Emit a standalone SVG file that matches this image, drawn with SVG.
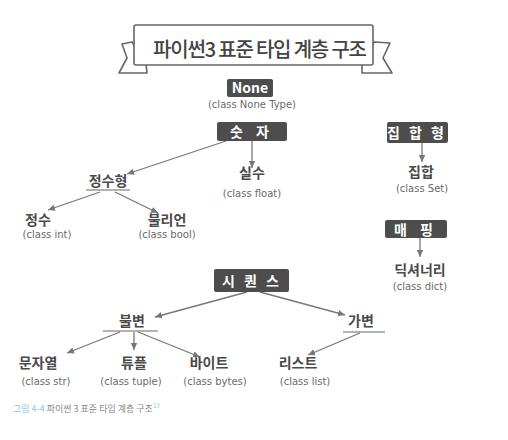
<svg xmlns="http://www.w3.org/2000/svg" width="508" height="440" viewBox="0 0 508 440">
<style>
.box{fill:#4d4d4d;}
.bt{fill:#fff;font-family:"Noto Sans CJK KR","Noto Sans",sans-serif;font-weight:bold;font-size:14px;text-anchor:middle;}
.lb{fill:#4a4a4a;font-family:"Noto Sans CJK KR","Noto Sans",sans-serif;font-weight:bold;font-size:14px;text-anchor:middle;}
.cl{fill:#6a6a6a;font-family:"DejaVu Sans","Noto Sans",sans-serif;font-size:10px;text-anchor:middle;}
.ln{stroke:#777;stroke-width:1.3;fill:none;}
.ul{stroke:#666;stroke-width:1.2;}
.ban{fill:#fff;stroke:#666;stroke-width:1.6;stroke-linejoin:round;}
</style>
<defs>
<marker id="ah" markerWidth="8" markerHeight="8" refX="7" refY="4" orient="auto" markerUnits="userSpaceOnUse">
<path d="M0,0.8 L7,4 L0,7.2 Z" fill="#777"/>
</marker>
</defs>
<rect width="508" height="440" fill="#fff"/>

<g id="title">
<path class="ban" d="M132,42 L122,44 L127,58 L119,73 L147,73 L146,64 Z"/>
<path class="ban" d="M374,42 L390,43 L383,58 L392,73 L362,73 L362,64 Z"/>
<rect class="ban" x="134" y="25" width="239" height="40" rx="2"/>
<text x="260" y="57" fill="#444" font-family="Noto Sans CJK KR, sans-serif" font-size="20" font-weight="500" text-anchor="middle" textLength="214" lengthAdjust="spacing">파이썬3 표준 타입 계층 구조</text>
</g>

<g id="connectors">
<line class="ln" x1="252" y1="140" x2="252" y2="168" marker-end="url(#ah)"/>
<line class="ln" x1="226" y1="141" x2="127" y2="174" marker-end="url(#ah)"/>
<line class="ln" x1="100" y1="192" x2="48" y2="210" marker-end="url(#ah)"/>
<line class="ln" x1="115" y1="192" x2="158" y2="213" marker-end="url(#ah)"/>
<line class="ln" x1="422" y1="143" x2="422" y2="162" marker-end="url(#ah)"/>
<line class="ln" x1="420" y1="238" x2="420" y2="257" marker-end="url(#ah)"/>
<line class="ln" x1="247" y1="292" x2="155" y2="317" marker-end="url(#ah)"/>
<line class="ln" x1="260" y1="292" x2="345" y2="315" marker-end="url(#ah)"/>
<line class="ln" x1="120" y1="332" x2="67" y2="353" marker-end="url(#ah)"/>
<line class="ln" x1="134" y1="332" x2="134" y2="350" marker-end="url(#ah)"/>
<line class="ln" x1="138" y1="332" x2="200" y2="357" marker-end="url(#ah)"/>
<line class="ln" x1="360" y1="333" x2="308" y2="355" marker-end="url(#ah)"/>
</g>

<g id="none">
<rect class="box" x="227" y="79" width="46" height="18" rx="2"/>
<text class="bt" x="250" y="93" font-family="Noto Sans, sans-serif">None</text>
<text class="cl" x="252" y="108">(class None Type)</text>
</g>

<g id="number">
<rect class="box" x="217" y="122" width="70" height="19" rx="2"/>
<text class="bt" x="252" y="137" letter-spacing="5">숫 자</text>
</g>

<g id="integral">
<text class="lb" x="108" y="186">정수형</text>
<line class="ul" x1="86" y1="190" x2="130" y2="190"/>
</g>

<g id="int">
<text class="lb" x="38" y="225">정수</text>
<text class="cl" x="47" y="238">(class  int)</text>
</g>

<g id="bool">
<text class="lb" x="167" y="225">불리언</text>
<text class="cl" x="167" y="238">(class  bool)</text>
</g>

<g id="float">
<text class="lb" x="252" y="178">실수</text>
<text class="cl" x="252" y="197">(class  float)</text>
</g>

<g id="setgroup">
<rect class="box" x="387" y="122" width="61" height="21" rx="2"/>
<text class="bt" x="417" y="138" letter-spacing="3">집 합 형</text>
</g>

<g id="set">
<text class="lb" x="421" y="177">집합</text>
<text class="cl" x="422" y="192">(class Set)</text>
</g>

<g id="mapping">
<rect class="box" x="385" y="220" width="62" height="18" rx="2"/>
<text class="bt" x="416" y="235" letter-spacing="5">매 핑</text>
</g>

<g id="dict">
<text class="lb" x="420" y="275">딕셔너리</text>
<text class="cl" x="420" y="290">(class dict)</text>
</g>

<g id="sequence">
<rect class="box" x="214" y="269" width="75" height="23" rx="2"/>
<text class="bt" x="252" y="286" letter-spacing="3">시 퀀 스</text>
</g>

<g id="immutable">
<text class="lb" x="132" y="326">불변</text>
<line class="ul" x1="103" y1="331" x2="158" y2="331"/>
</g>

<g id="mutable">
<text class="lb" x="361" y="326">가변</text>
<line class="ul" x1="343" y1="332" x2="385" y2="332"/>
</g>

<g id="str">
<text class="lb" x="38" y="368">문자열</text>
<text class="cl" x="46" y="385">(class str)</text>
</g>

<g id="tuple">
<text class="lb" x="134" y="368">튜플</text>
<text class="cl" x="131" y="385">(class tuple)</text>
</g>

<g id="bytes">
<text class="lb" x="209" y="368">바이트</text>
<text class="cl" x="215" y="385">(class bytes)</text>
</g>

<g id="list">
<text class="lb" x="298" y="368">리스트</text>
<text class="cl" x="305" y="385">(class list)</text>
</g>

<g id="caption">
<text x="13" y="412" font-family="Noto Sans CJK KR, sans-serif" font-size="9" fill="#888"><tspan fill="#8cc6e6">그림 4-4</tspan> 파이썬 3 표준 타입 계층 구조<tspan font-size="6" dy="-4" fill="#8cc6e6">13</tspan></text>
</g>
</svg>
